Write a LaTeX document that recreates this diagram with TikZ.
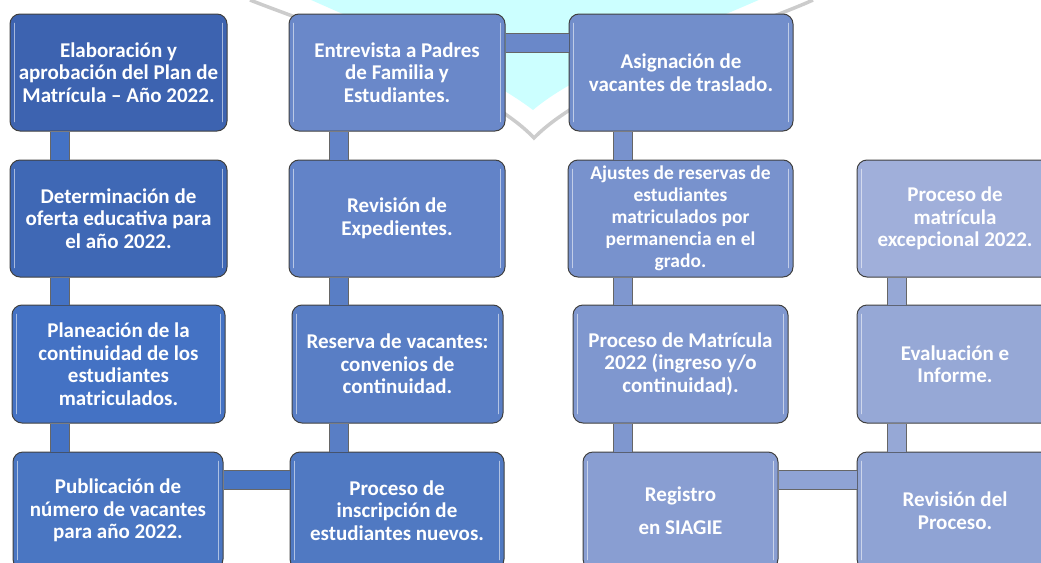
\documentclass[tikz,border=0pt]{standalone}
\usepackage{fontspec}
\setmainfont{Carlito}
\usepackage{tikz}

\definecolor{s1}{RGB}{61,99,176}
\definecolor{s2}{RGB}{63,104,181}
\definecolor{s3}{RGB}{68,114,196}
\definecolor{s4}{RGB}{74,118,194}
\definecolor{s5}{RGB}{80,121,194}
\definecolor{s6}{RGB}{89,126,197}
\definecolor{s7}{RGB}{98,131,200}
\definecolor{s8}{RGB}{106,136,201}
\definecolor{s9}{RGB}{114,142,203}
\definecolor{s10}{RGB}{120,146,205}
\definecolor{s11}{RGB}{127,151,207}
\definecolor{s12}{RGB}{137,158,210}
\definecolor{s13}{RGB}{143,163,212}
\definecolor{s14}{RGB}{150,168,214}
\definecolor{s15}{RGB}{160,175,218}
\definecolor{cyanbg}{RGB}{204,255,255}

\begin{document}
\begin{tikzpicture}[
    x=1pt, y=-1pt,
    box/.style={rectangle, rounded corners=10pt, draw=black!75, line width=1pt,
        fill=#1, text=white, align=center, inner sep=0pt, minimum height=117pt,
        font=\bfseries\fontsize{21}{22.5}\selectfont},
    bar/.style={draw=black!60, line width=1pt, double=#1, double distance=18pt},
    glint/.style={white, opacity=0.55, line width=1.6pt, line cap=round}
]
\useasboundingbox (0,0) rectangle (1041,562);
\clip (0,0) rectangle (1041,562);

% Watermark
\fill[cyanbg] (300,-5) .. controls (400,40) and (480,70) .. (533,110)
    .. controls (580,70) and (680,35) .. (770,-5) -- cycle;
\draw[black!20, line width=3.5pt] (250,0) .. controls (300,20) and (480,80) .. (534,138)
    .. controls (590,80) and (770,20) .. (813,0);

% Column 1
\node[box=s1, minimum width=217pt] (A1) at (118.5,72.5) {Elaboración y\\aprobación del Plan de\\Matrícula -- Año 2022.};
\node[box=s2, minimum width=217pt] (A2) at (118.5,218.5) {Determinación de\\oferta educativa para\\el año 2022.};
\node[box=s3, minimum width=213pt, minimum height=118pt] (A3) at (118.5,364) {Planeación de la\\continuidad de los\\estudiantes\\matriculados.};
\node[box=s4, minimum width=210pt] (A4) at (118,510.5) {Publicación de\\número de vacantes\\para año 2022.};

% Column 2
\node[box=s8, minimum width=216pt] (B1) at (397,72.5) {Entrevista a Padres\\de Familia y\\Estudiantes.};
\node[box=s7, minimum width=216pt] (B2) at (397,218.5) {Revisión de\\Expedientes.};
\node[box=s6, minimum width=211pt, minimum height=118pt] (B3) at (397.5,364) {Reserva de vacantes:\\convenios de\\continuidad.};
\node[box=s5, minimum width=214pt] (B4) at (397,510.5) {Proceso de\\inscripción de\\estudiantes nuevos.};

% Column 3
\node[box=s9, minimum width=224pt] (C1) at (681,72.5) {Asignación de\\vacantes de traslado.};
\node[box=s10, minimum width=225pt, font=\bfseries\fontsize{19.5}{22}\selectfont] (C2) at (680.5,218.5) {Ajustes de reservas de\\estudiantes\\matriculados por\\permanencia en el\\grado.};
\node[box=s11, minimum width=215pt, minimum height=118pt] (C3) at (680.5,364) {Proceso de Matrícula\\2022 (ingreso y/o\\continuidad).};
\node[box=s12, minimum width=195pt] (C4) at (680.5,510.5) {Registro\\[10pt]en SIAGIE};

% Column 4
\node[box=s15, minimum width=196pt] (D2) at (955,218.5) {Proceso de\\matrícula\\excepcional 2022.};
\node[box=s14, minimum width=196pt, minimum height=118pt] (D3) at (955,364) {Evaluación e\\Informe.};
\node[box=s13, minimum width=196pt] (D4) at (955,510.5) {Revisión del\\Proceso.};

% Highlights
\foreach \n in {A1,A2,A3,A4,B1,B2,B3,B4,C1,C2,C3,C4,D2,D3,D4} {
    \draw[glint] ([xshift=5pt,yshift=-10pt]\n.north west) -- ([xshift=5pt,yshift=10pt]\n.south west);
    \draw[glint] ([xshift=-5pt,yshift=-10pt]\n.north east) -- ([xshift=-5pt,yshift=10pt]\n.south east);
}

% Connectors
\coordinate (c1) at (60,0);
\coordinate (c2) at (339,0);
\coordinate (c3) at (623,0);
\coordinate (c4) at (896.5,0);
\coordinate (r1) at (0,42.5);
\coordinate (r4) at (0,479.5);

\draw[bar=s3] (A1.south -| c1) -- (A2.north -| c1);
\draw[bar=s3] (A2.south -| c1) -- (A3.north -| c1);
\draw[bar=s3] (A3.south -| c1) -- (A4.north -| c1);
\draw[bar=s4] (A4.east |- r4) -- (B4.west |- r4);
\draw[bar=s6] (B4.north -| c2) -- (B3.south -| c2);
\draw[bar=s6] (B3.north -| c2) -- (B2.south -| c2);
\draw[bar=s7] (B2.north -| c2) -- (B1.south -| c2);
\draw[bar=s8] (B1.east |- r1) -- (C1.west |- r1);
\draw[bar=s10] (C1.south -| c3) -- (C2.north -| c3);
\draw[bar=s11] (C2.south -| c3) -- (C3.north -| c3);
\draw[bar=s11] (C3.south -| c3) -- (C4.north -| c3);
\draw[bar=s13] (C4.east |- r4) -- (D4.west |- r4);
\draw[bar=s14] (D4.north -| c4) -- (D3.south -| c4);
\draw[bar=s14] (D3.north -| c4) -- (D2.south -| c4);

\end{tikzpicture}
\end{document}
